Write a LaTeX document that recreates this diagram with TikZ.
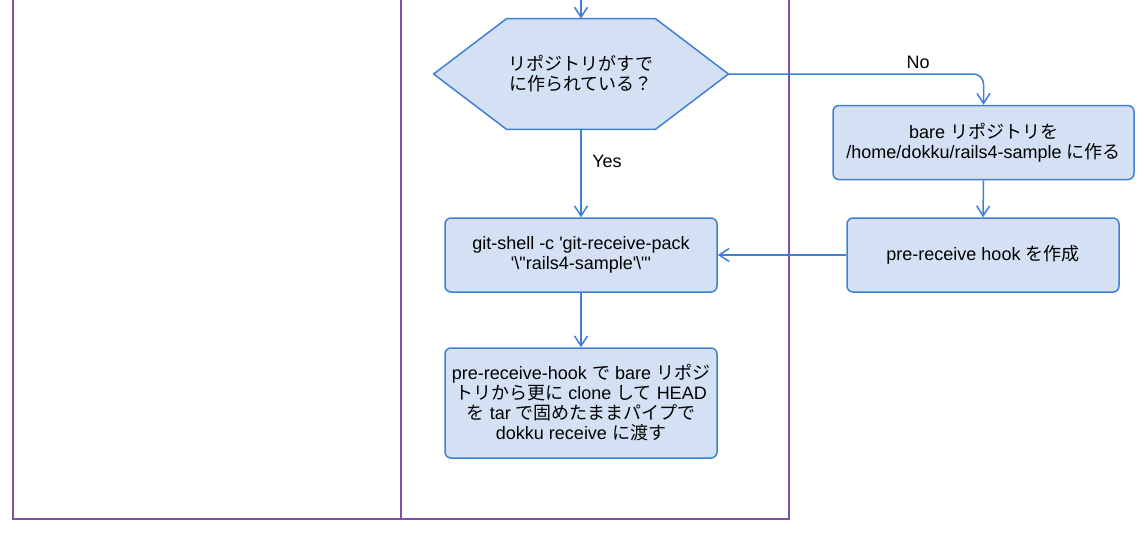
\documentclass[tikz,border=0pt]{standalone}
\usepackage{fontspec}
\usepackage{tikz}
\usetikzlibrary{arrows.meta}
\newfontfamily\lat{Liberation Sans}
\newfontfamily\jp{Noto Sans CJK JP}
\definecolor{boxfill}{HTML}{D4E1F5}
\definecolor{boxline}{HTML}{3F7FD6}
\definecolor{laneline}{HTML}{7E4FA3}
\tikzset{
	flowbox/.style={draw=boxline, fill=boxfill, line width=0.75pt, rounded corners=3pt,
		align=center, inner sep=2pt, minimum width=136pt, minimum height=37pt},
	question/.style={align=center, inner sep=0pt, minimum width=147pt, minimum height=55pt},
	hexline/.style={draw=boxline, fill=boxfill, line width=0.75pt, line join=round},
	arr/.style={draw=boxline, line width=0.75pt, -{Straight Barb[length=5pt,width=6.5pt]}},
	lane/.style={draw=laneline, line width=0.9pt},
	lbl/.style={inner sep=0pt}
}
\begin{document}
\begin{tikzpicture}[x=0.5pt, y=-0.5pt, font=\lat\fontsize{9}{10}\selectfont]
			\useasboundingbox (0,0) rectangle (1144,536);
			% swimlanes
			\draw[lane] (13,0) -- (13,519) -- (789,519) -- (789,0);
			\draw[lane] (401,0) -- (401,519);
			% decision
			\coordinate (top) at (581,0);
			\node[question] (exists) at (581,74) {};
			\filldraw[hexline] (exists.west) -- ([xshift=36.5pt]exists.north west) -- ([xshift=-36.5pt]exists.north east)
				-- (exists.east) -- ([xshift=-36.5pt]exists.south east) -- ([xshift=36.5pt]exists.south west) -- cycle;
			\node[align=center] (existstext) at (exists) {{\jp リポジトリがすで}\\{\jp に作られている？}};
			% steps
			\node[flowbox] (shell) at (581,255) {git-shell -c 'git-receive-pack\\'\textbackslash"rails4-sample'\textbackslash"'};
			\node[flowbox, minimum height=55pt] (hook) at (581,403) {pre-receive-hook {\jp で} bare {\jp リポジ}\\{\jp トリから更に} clone {\jp して} HEAD\\{\jp を} tar {\jp で固めたままパイプで}\\dokku receive {\jp に渡す}};
			\node[flowbox, minimum width=150.5pt] (bare) at (983.5,142.5) {bare {\jp リポジトリを}\\/home/dokku/rails4-sample {\jp に作る}};
			\node[flowbox] (mkhook) at (983,255) {pre-receive hook {\jp を作成}};
			% connectors
			\draw[arr] (top) -- (exists.north);
			\draw[arr] (exists.south) -- (shell.north);
			\draw[arr, rounded corners=5pt] (exists.east) -| (bare.north);
			\draw[arr] (bare.south) -- (mkhook.north);
			\draw[arr] (mkhook.west) -- (shell.east);
			\draw[arr] (shell.south) -- (hook.north);
			% labels
			\node[lbl] (yes) at (607,161) {Yes};
			\node[lbl] (no) at (918,62) {No};
			\end{tikzpicture}
\end{document}
